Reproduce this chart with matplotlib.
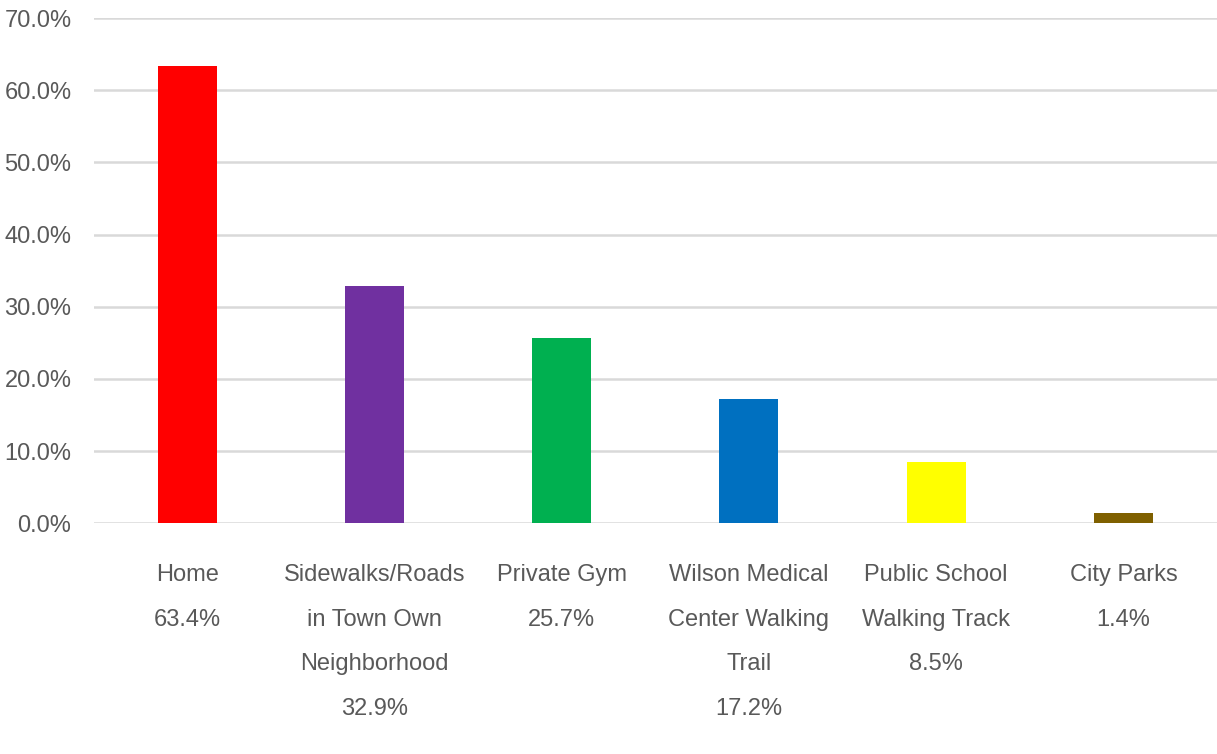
import matplotlib
matplotlib.use("Agg")
import matplotlib.pyplot as plt
from matplotlib import font_manager
from matplotlib.ticker import FuncFormatter

# Pick a narrow sans face if one is installed
installed = {f.name for f in font_manager.fontManager.ttflist}
for fam in ["Liberation Sans Narrow", "Liberation Sans", "DejaVu Sans"]:
    if fam in installed:
        plt.rcParams["font.family"] = fam
        break

# --- Data ---
categories = [
    "Home",
    "Sidewalks/Roads\nin Town Own\nNeighborhood",
    "Private Gym",
    "Wilson Medical\nCenter Walking\nTrail",
    "Public School\nWalking Track",
    "City Parks",
]
values = [63.4, 32.9, 25.7, 17.2, 8.5, 1.4]
colors = ["#FF0000", "#7030A0", "#00B050", "#0070C0", "#FFFF00", "#7F6000"]

labels = [f"{c}\n{v:.1f}%" for c, v in zip(categories, values)]
text_color = "#595959"
grid_color = "#D9D9D9"

fig = plt.figure(figsize=(12.17, 7.54), dpi=100)
ax = fig.add_axes([0.077, 0.306, 0.923, 0.670])

x = list(range(len(values)))
ax.bar(x, values, width=0.315, color=colors, zorder=3)

ax.set_xlim(-0.5, len(values) - 0.5)
ax.set_ylim(0, 70)
ax.set_yticks(range(0, 71, 10))
ax.yaxis.set_major_formatter(FuncFormatter(lambda v, _: f"{v:.1f}%"))
ax.grid(axis="y", color=grid_color, linewidth=1.8, zorder=0)

for s in ax.spines.values():
    s.set_visible(False)

ax.set_xticks(x)
ax.set_xticklabels(labels, linespacing=2.35)
ax.tick_params(axis="both", length=0, labelsize=17, labelcolor=text_color)
ax.tick_params(axis="x", pad=29)
ax.tick_params(axis="y", pad=16)

fig.savefig("out.png", dpi=100)
